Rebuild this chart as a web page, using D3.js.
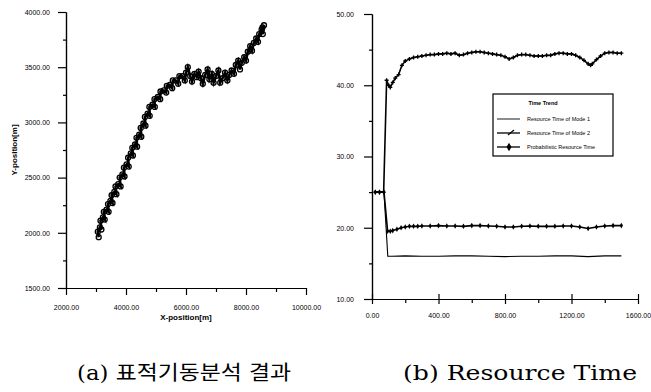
<!DOCTYPE html>
<html>
<head>
<meta charset="utf-8">
<script src="https://cdn.jsdelivr.net/npm/d3@7"></script>
<style>
  body { margin: 0; background: #fff; }
  svg { display: block; }
  .axis path, .axis line { stroke: #000; stroke-width: 1.2; }
  .axis text { font-family: "Liberation Sans", Arial, sans-serif; font-size: 7px; fill: #000; }
</style>
</head>
<body>
<script>
// ---- (a) target motion track ----
var trackX = [3090, 3060, 3130, 3180, 3150, 3230, 3290, 3260, 3350, 3420, 3400, 3480, 3550, 3520, 3610, 3680,
    3650, 3740, 3820, 3790, 3880, 3950, 3930, 4020, 4090, 4070, 4160, 4230, 4210, 4300, 4370, 4350, 4440, 4510,
    4490, 4580, 4650, 4630, 4720, 4790, 4780, 4880, 4960, 4950, 5060, 5140, 5150, 5260, 5340, 5360, 5460, 5540,
    5560, 5660, 5740, 5780, 5880, 5960, 6000, 6060, 6140, 6200, 6280, 6360, 6420, 6500, 6560, 6640, 6720, 6780,
    6860, 6920, 7000, 7080, 7140, 7220, 7300, 7380, 7440, 7520, 7600, 7660, 7740, 7800, 7860, 7940, 8000, 8060,
    8140, 8200, 8260, 8340, 8400, 8440, 8520, 8560, 8600, 8550];
var trackY = [1960, 2010, 2050, 2030, 2110, 2140, 2120, 2190, 2210, 2190, 2260, 2290, 2270, 2340, 2370, 2350,
    2420, 2440, 2420, 2500, 2530, 2510, 2590, 2620, 2600, 2680, 2720, 2700, 2770, 2800, 2780, 2860, 2890, 2870,
    2950, 2990, 2970, 3050, 3080, 3060, 3140, 3160, 3140, 3210, 3230, 3210, 3280, 3290, 3270, 3330, 3340, 3310,
    3380, 3380, 3350, 3420, 3420, 3380, 3450, 3500, 3420, 3370, 3440, 3410, 3460, 3400, 3350, 3430, 3480, 3390,
    3440, 3360, 3420, 3470, 3360, 3400, 3450, 3380, 3430, 3470, 3440, 3520, 3560, 3480, 3540, 3590, 3560, 3640,
    3690, 3650, 3720, 3760, 3730, 3800, 3840, 3800, 3880, 3860];
var xTicksA = [2000, 4000, 6000, 8000, 10000];
var yTicksA = [1500, 2000, 2500, 3000, 3500, 4000];

// ---- (b) resource time ----
var mode1T = [20, 45, 72, 95, 120, 200, 300, 400, 500, 600, 700, 800, 900, 1000, 1100, 1200, 1300, 1400, 1500];
var mode1V = [25, 25, 25, 16, 16.0, 16.05, 16.0, 16.0, 16.05, 16.05, 16.0, 15.95, 16.0, 16.0, 16.05, 16.05, 15.95, 16.05, 16.05];

var mode2T = [20, 45, 70, 88, 100, 110, 125, 140, 160, 180, 200, 225, 250, 275, 300, 325, 350, 375, 400, 425,
    450, 475, 500, 525, 550, 575, 600, 625, 650, 675, 700, 725, 750, 775, 800, 825, 850, 875, 900, 925, 950,
    975, 1000, 1025, 1050, 1075, 1100, 1125, 1150, 1175, 1200, 1225, 1250, 1275, 1300, 1315, 1325, 1350,
    1375, 1400, 1425, 1450, 1475, 1500];
var mode2V = [25, 25, 25, 40.7, 40.0, 39.7, 40.4, 41.0, 41.5, 42.8, 43.4, 43.7, 43.9, 44.0, 44.1, 44.2, 44.3,
    44.3, 44.4, 44.4, 44.5, 44.4, 44.5, 44.2, 44.3, 44.5, 44.6, 44.7, 44.7, 44.6, 44.5, 44.4, 44.3, 44.2, 44.0,
    43.7, 43.9, 44.2, 44.3, 44.3, 44.2, 44.1, 44.1, 44.1, 44.2, 44.2, 44.4, 44.5, 44.5, 44.4, 44.4, 44.2, 43.9,
    43.5, 43.0, 42.8, 43.0, 43.6, 44.1, 44.5, 44.6, 44.6, 44.5, 44.5];

var probT = [20, 45, 72, 94, 110, 125, 150, 175, 200, 225, 250, 275, 300, 350, 400, 450, 500, 550, 600, 650,
    700, 750, 800, 850, 900, 950, 1000, 1050, 1100, 1150, 1200, 1250, 1300, 1350, 1400, 1450, 1500];
var probV = [25, 25, 25, 19.5, 19.5, 19.6, 19.8, 20.0, 20.1, 20.2, 20.2, 20.2, 20.25, 20.25, 20.3, 20.25,
    20.25, 20.2, 20.3, 20.3, 20.25, 20.2, 20.1, 20.1, 20.2, 20.25, 20.2, 20.2, 20.2, 20.25, 20.25, 20.1, 19.9,
    20.1, 20.25, 20.3, 20.3];

var xTicksB = [0, 400, 800, 1200, 1600];
var yTicksB = [10, 20, 30, 40, 50];
var legendLabels = ["Resource Time of Mode 1", "Resource Time of Mode 2", "Probabilistic Resource Time"];

var svg = d3.select("body").append("svg")
    .attr("width", 651)
    .attr("height", 392);

var fmt = d3.format(".2f");

// ================= chart (a) =================
var xA = d3.scaleLinear().domain([2000, 10000]).range([66, 306]);
var yA = d3.scaleLinear().domain([1500, 4000]).range([288, 12]);

svg.append("g").attr("class", "axis")
    .attr("transform", "translate(0,288)")
    .call(d3.axisBottom(xA).tickValues(d3.range(3000, 10000, 2000)).tickSize(4).tickFormat("").tickSizeOuter(0));
svg.append("g").attr("class", "axis")
    .attr("transform", "translate(0,288)")
    .call(d3.axisBottom(xA).tickValues(xTicksA).tickSize(7).tickSizeOuter(0).tickPadding(10).tickFormat(fmt));

svg.append("g").attr("class", "axis")
    .attr("transform", "translate(66,0)")
    .call(d3.axisLeft(yA).tickValues(d3.range(1750, 4000, 500)).tickSize(3).tickFormat("").tickSizeOuter(0));
svg.append("g").attr("class", "axis")
    .attr("transform", "translate(66,0)")
    .call(d3.axisLeft(yA).tickValues(yTicksA).tickSize(8).tickSizeOuter(0).tickPadding(8).tickFormat(fmt));

svg.append("text")
    .attr("x", 186).attr("y", 320)
    .attr("text-anchor", "middle")
    .attr("font-family", "Liberation Sans, Arial, sans-serif")
    .attr("font-size", "8px").attr("font-weight", "bold")
    .text("X-position[m]");

svg.append("text")
    .attr("transform", "translate(17,150) rotate(-90)")
    .attr("text-anchor", "middle")
    .attr("font-family", "Liberation Sans, Arial, sans-serif")
    .attr("font-size", "8px").attr("font-weight", "bold")
    .text("Y-position[m]");

var track = trackX.map(function(x, i) { return [x, trackY[i]]; });

svg.append("path")
    .datum(track)
    .attr("fill", "none")
    .attr("stroke", "#000")
    .attr("stroke-width", 2.6)
    .attr("d", d3.line().x(function(d) { return xA(d[0]); }).y(function(d) { return yA(d[1]); }));

svg.append("g").selectAll("circle")
    .data(track)
    .enter()
    .append("circle")
    .attr("cx", function(d) { return xA(d[0]); })
    .attr("cy", function(d) { return yA(d[1]); })
    .attr("r", 2.5)
    .attr("fill", "none")
    .attr("stroke", "#000")
    .attr("stroke-width", 1.3);

// ================= chart (b) =================
var xB = d3.scaleLinear().domain([0, 1600]).range([372, 638]);
var yB = d3.scaleLinear().domain([10, 50]).range([299, 14]);

svg.append("g").attr("class", "axis")
    .attr("transform", "translate(0,299)")
    .call(d3.axisBottom(xB).tickValues(d3.range(200, 1600, 400)).tickSize(4).tickFormat("").tickSizeOuter(0));
svg.append("g").attr("class", "axis")
    .attr("transform", "translate(0,299)")
    .call(d3.axisTop(xB).tickValues(xTicksB).tickSize(5).tickFormat("").tickSizeOuter(0));
svg.append("g").attr("class", "axis")
    .attr("transform", "translate(0,299)")
    .call(d3.axisBottom(xB).tickValues(xTicksB).tickSize(5).tickSizeOuter(0).tickPadding(9).tickFormat(fmt));

svg.append("g").attr("class", "axis")
    .attr("transform", "translate(372,0)")
    .call(d3.axisLeft(yB).tickValues(d3.range(15, 50, 10)).tickSize(3).tickFormat("").tickSizeOuter(0));
svg.append("g").attr("class", "axis")
    .attr("transform", "translate(372,0)")
    .call(d3.axisLeft(yB).tickValues(yTicksB).tickSize(8).tickSizeOuter(0).tickPadding(10).tickFormat(fmt));

var lineB = d3.line()
    .x(function(d) { return xB(d[0]); })
    .y(function(d) { return yB(d[1]); });

function zipT(t, v) { return t.map(function(x, i) { return [x, v[i]]; }); }

var mode1 = zipT(mode1T, mode1V);
var mode2 = zipT(mode2T, mode2V);
var prob = zipT(probT, probV);

svg.append("path").datum(mode1)
    .attr("fill", "none").attr("stroke", "#000").attr("stroke-width", 1.1)
    .attr("d", lineB);

svg.append("path").datum(mode2)
    .attr("fill", "none").attr("stroke", "#000").attr("stroke-width", 1.6)
    .attr("d", lineB);

svg.append("path").datum(prob)
    .attr("fill", "none").attr("stroke", "#000").attr("stroke-width", 1.6)
    .attr("d", lineB);

// mode 2 markers: small crosses
var crossSym = d3.symbol().type(d3.symbolCross).size(9);
svg.append("g").selectAll("path")
    .data(mode2)
    .enter()
    .append("path")
    .attr("transform", function(d) { return "translate(" + xB(d[0]) + "," + yB(d[1]) + ")"; })
    .attr("d", crossSym)
    .attr("fill", "#000");

// probabilistic markers: small diamonds
var diaSym = d3.symbol().type(d3.symbolDiamond).size(9);
svg.append("g").selectAll("path")
    .data(prob)
    .enter()
    .append("path")
    .attr("transform", function(d) { return "translate(" + xB(d[0]) + "," + yB(d[1]) + ")"; })
    .attr("d", diaSym)
    .attr("fill", "#000");

// legend
var legend = svg.append("g").attr("transform", "translate(493,94)");
legend.append("rect")
    .attr("width", 120).attr("height", 62)
    .attr("fill", "#fff").attr("stroke", "#000").attr("stroke-width", 1.2);
legend.append("text")
    .attr("x", 50).attr("y", 11)
    .attr("text-anchor", "middle")
    .attr("font-family", "Liberation Sans, Arial, sans-serif")
    .attr("font-size", "5.5px").attr("font-weight", "bold")
    .text("Time Trend");

var items = legend.selectAll(".legend-item")
    .data(legendLabels)
    .enter()
    .append("g")
    .attr("class", "legend-item")
    .attr("transform", function(d, i) { return "translate(0," + (25 + i * 14) + ")"; });

items.append("line")
    .attr("x1", 4).attr("x2", 27)
    .attr("stroke", "#000")
    .attr("stroke-width", function(d, i) { return i === 0 ? 0.9 : 1.3; });

items.append("text")
    .attr("x", 34).attr("y", 2)
    .attr("font-family", "Liberation Sans, Arial, sans-serif")
    .attr("font-size", "5.5px")
    .text(function(d) { return d; });

legend.append("path")
    .attr("transform", "translate(18,39)")
    .attr("d", "M-3,2 L3,-3")
    .attr("stroke", "#000").attr("stroke-width", 1.2);
legend.append("path")
    .attr("transform", "translate(16,53)")
    .attr("d", d3.symbol().type(d3.symbolDiamond).size(22))
    .attr("fill", "#000");

// ================= captions =================
svg.append("text")
    .attr("x", 77).attr("y", 380)
    .attr("font-family", "DejaVu Serif, Noto Sans CJK KR, serif")
    .attr("font-size", "20px")
    .attr("textLength", 214).attr("lengthAdjust", "spacingAndGlyphs")
    .text("(a) 표적기동분석 결과");

svg.append("text")
    .attr("x", 403).attr("y", 380)
    .attr("font-family", "DejaVu Serif, serif")
    .attr("font-size", "20px")
    .attr("textLength", 234).attr("lengthAdjust", "spacingAndGlyphs")
    .text("(b) Resource Time");
</script>
</body>
</html>
